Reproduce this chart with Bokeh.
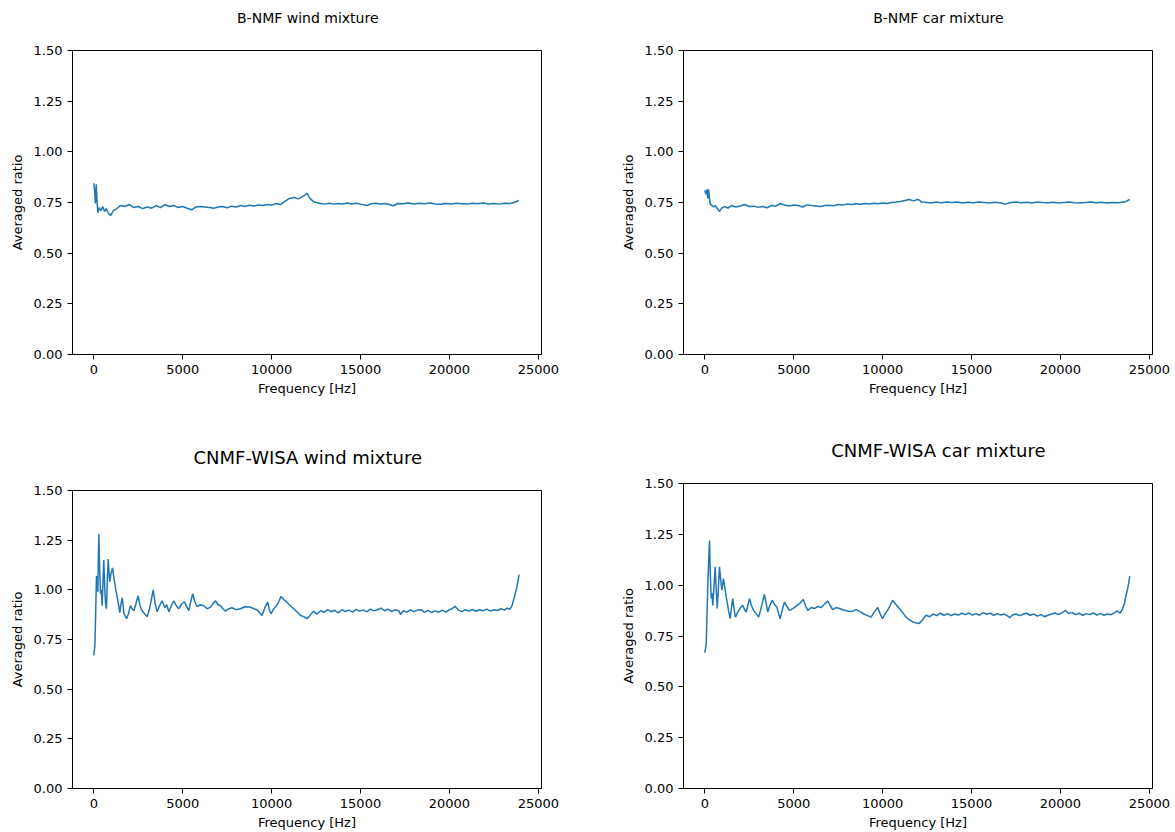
from bokeh.plotting import figure
from bokeh.layouts import column, row
from bokeh.models import Range1d, FixedTicker, NumeralTickFormatter
from bokeh.core.properties import value
from bokeh.embed import file_html
from bokeh.resources import INLINE

# ---- averaged ratio per frequency bin: (frequency [Hz], ratio) ----
bnmf_wind = [
    (0, 0.845), (50, 0.80), (90, 0.745), (135, 0.84), (180, 0.76), (225, 0.70), (300, 0.725),
    (400, 0.71), (500, 0.73), (600, 0.705), (700, 0.72), (800, 0.70), (940, 0.685), (1100, 0.71),
    (1300, 0.72), (1500, 0.735), (1750, 0.73), (2000, 0.74), (2250, 0.725), (2500, 0.73),
    (2750, 0.72), (3000, 0.728), (3250, 0.722), (3500, 0.735), (3750, 0.725), (4000, 0.74),
    (4250, 0.73), (4500, 0.735), (4750, 0.725), (5000, 0.73), (5250, 0.722), (5500, 0.714),
    (5750, 0.728), (6000, 0.73), (6250, 0.728), (6500, 0.725), (6750, 0.722), (7000, 0.728),
    (7250, 0.73), (7500, 0.724), (7750, 0.732), (8000, 0.728), (8250, 0.735), (8500, 0.73),
    (8750, 0.736), (9000, 0.733), (9250, 0.738), (9500, 0.735), (9750, 0.74), (10000, 0.737),
    (10250, 0.745), (10500, 0.74), (10750, 0.755), (11000, 0.77), (11250, 0.775), (11500, 0.768),
    (11750, 0.78), (12000, 0.795), (12150, 0.77), (12400, 0.752), (12750, 0.745), (13000, 0.742),
    (13250, 0.746), (13500, 0.742), (13750, 0.745), (14000, 0.743), (14250, 0.747), (14500, 0.743),
    (14750, 0.746), (15000, 0.742), (15350, 0.735), (15600, 0.744), (15850, 0.746), (16100, 0.743),
    (16400, 0.745), (16850, 0.734), (17100, 0.745), (17400, 0.744), (17700, 0.747), (18000, 0.743),
    (18300, 0.746), (18600, 0.744), (18900, 0.748), (19200, 0.743), (19500, 0.741), (19800, 0.745),
    (20100, 0.743), (20400, 0.746), (20700, 0.744), (21000, 0.742), (21300, 0.746), (21600, 0.744),
    (21900, 0.747), (22200, 0.743), (22500, 0.745), (22800, 0.742), (23100, 0.746), (23400, 0.745),
    (23650, 0.75), (23900, 0.76),
]

bnmf_car = [
    (0, 0.81), (60, 0.79), (120, 0.815), (170, 0.77), (210, 0.815), (300, 0.742), (400, 0.735),
    (500, 0.728), (600, 0.735), (700, 0.72), (825, 0.706), (950, 0.722), (1100, 0.73),
    (1300, 0.722), (1500, 0.735), (1750, 0.728), (2000, 0.733), (2250, 0.74), (2500, 0.73),
    (2750, 0.732), (3000, 0.726), (3250, 0.73), (3500, 0.724), (3750, 0.735), (4000, 0.732),
    (4250, 0.745), (4500, 0.738), (4750, 0.733), (5000, 0.738), (5250, 0.735), (5500, 0.728),
    (5750, 0.738), (6000, 0.735), (6250, 0.733), (6500, 0.73), (6750, 0.735), (7000, 0.737),
    (7250, 0.734), (7500, 0.74), (7750, 0.738), (8000, 0.742), (8250, 0.74), (8500, 0.744),
    (8750, 0.741), (9000, 0.745), (9250, 0.743), (9500, 0.746), (9750, 0.744), (10000, 0.748),
    (10250, 0.745), (10500, 0.75), (10750, 0.752), (11000, 0.755), (11250, 0.76), (11500, 0.765),
    (11750, 0.758), (12000, 0.766), (12200, 0.752), (12500, 0.75), (12750, 0.748), (13000, 0.752),
    (13300, 0.749), (13600, 0.753), (13900, 0.75), (14200, 0.752), (14500, 0.748), (14800, 0.751),
    (15100, 0.749), (15400, 0.752), (15700, 0.75), (16000, 0.748), (16300, 0.751), (16600, 0.749),
    (16900, 0.742), (17200, 0.75), (17500, 0.752), (17800, 0.749), (18100, 0.751), (18400, 0.748),
    (18700, 0.752), (19000, 0.75), (19300, 0.749), (19600, 0.751), (19900, 0.748), (20200, 0.75),
    (20500, 0.752), (20800, 0.749), (21100, 0.747), (21400, 0.75), (21700, 0.752), (22000, 0.749),
    (22300, 0.751), (22600, 0.748), (22900, 0.75), (23200, 0.749), (23600, 0.752), (23900, 0.765),
]

cnmf_wind = [
    (0, 0.67), (60, 0.72), (95, 0.85), (150, 1.07), (225, 0.99), (280, 1.28), (330, 1.10),
    (375, 0.98), (420, 1.00), (470, 0.92), (520, 1.05), (560, 1.15), (620, 1.00), (660, 0.93),
    (710, 0.905), (760, 1.05), (810, 1.155), (860, 1.08), (900, 1.04), (960, 1.08), (1050, 1.11),
    (1130, 1.06), (1220, 1.01), (1280, 0.98), (1350, 0.945), (1400, 0.92), (1460, 0.885),
    (1530, 0.93), (1600, 0.96), (1650, 0.92), (1690, 0.88), (1760, 0.87), (1840, 0.855),
    (1950, 0.88), (2060, 0.92), (2150, 0.905), (2250, 0.895), (2370, 0.93), (2490, 0.97),
    (2600, 0.92), (2720, 0.895), (2850, 0.88), (3000, 0.865), (3150, 0.91), (3340, 1.00),
    (3450, 0.93), (3560, 0.89), (3700, 0.92), (3840, 0.945), (4000, 0.91), (4100, 0.925),
    (4220, 0.89), (4360, 0.92), (4500, 0.945), (4640, 0.92), (4780, 0.905), (4950, 0.93),
    (5100, 0.94), (5220, 0.915), (5340, 0.895), (5450, 0.94), (5560, 0.98), (5680, 0.94),
    (5810, 0.915), (6000, 0.925), (6180, 0.92), (6380, 0.905), (6560, 0.913), (6700, 0.93),
    (6840, 0.945), (6980, 0.925), (7120, 0.92), (7260, 0.905), (7400, 0.893), (7600, 0.905),
    (7780, 0.91), (8000, 0.90), (8240, 0.905), (8500, 0.915), (8800, 0.913), (9000, 0.905),
    (9180, 0.90), (9320, 0.885), (9460, 0.871), (9620, 0.91), (9780, 0.938), (9870, 0.90),
    (9970, 0.88), (10120, 0.905), (10260, 0.917), (10400, 0.94), (10530, 0.967), (10700, 0.95),
    (10860, 0.938), (11050, 0.92), (11240, 0.905), (11420, 0.89), (11610, 0.872), (11800, 0.865),
    (11990, 0.855), (12150, 0.87), (12350, 0.893), (12550, 0.878), (12750, 0.895), (12950, 0.887),
    (13150, 0.90), (13350, 0.89), (13550, 0.897), (13750, 0.884), (13950, 0.90), (14150, 0.891),
    (14350, 0.898), (14550, 0.888), (14750, 0.902), (14950, 0.893), (15150, 0.899), (15350, 0.889),
    (15550, 0.903), (15750, 0.894), (15950, 0.90), (16150, 0.908), (16350, 0.895), (16550, 0.902),
    (16750, 0.89), (16950, 0.90), (17150, 0.895), (17250, 0.876), (17400, 0.895), (17600, 0.888),
    (17800, 0.899), (18000, 0.89), (18200, 0.898), (18400, 0.90), (18600, 0.887), (18800, 0.897),
    (19000, 0.885), (19200, 0.894), (19400, 0.887), (19600, 0.898), (19800, 0.888), (20000, 0.90),
    (20150, 0.905), (20320, 0.917), (20500, 0.898), (20700, 0.89), (20900, 0.90), (21100, 0.893),
    (21300, 0.901), (21500, 0.892), (21700, 0.90), (21900, 0.895), (22100, 0.903), (22300, 0.893),
    (22500, 0.90), (22700, 0.896), (22900, 0.905), (23100, 0.898), (23250, 0.908), (23400, 0.902),
    (23520, 0.92), (23600, 0.947), (23700, 0.98), (23790, 1.013), (23920, 1.077),
]

cnmf_car = [
    (0, 0.668), (80, 0.712), (170, 1.008), (264, 1.22), (310, 1.05), (360, 0.934), (400, 0.96),
    (450, 0.90), (520, 1.00), (580, 1.09), (640, 0.98), (700, 0.885), (760, 0.98), (825, 1.09),
    (890, 1.03), (955, 0.975), (1050, 1.032), (1120, 0.99), (1200, 0.942), (1270, 0.91),
    (1330, 0.876), (1430, 0.835), (1500, 0.89), (1570, 0.934), (1650, 0.88), (1720, 0.843),
    (1810, 0.86), (1910, 0.876), (2020, 0.89), (2130, 0.901), (2230, 0.88), (2330, 0.868),
    (2420, 0.90), (2510, 0.934), (2620, 0.90), (2740, 0.876), (2880, 0.86), (3030, 0.843),
    (3200, 0.90), (3350, 0.955), (3450, 0.91), (3540, 0.868), (3660, 0.90), (3790, 0.926),
    (3920, 0.905), (4050, 0.893), (4150, 0.86), (4240, 0.835), (4360, 0.88), (4480, 0.917),
    (4620, 0.895), (4760, 0.876), (4950, 0.885), (5130, 0.896), (5340, 0.91), (5540, 0.929),
    (5660, 0.90), (5790, 0.876), (5980, 0.89), (6160, 0.885), (6350, 0.895), (6540, 0.89),
    (6720, 0.905), (6910, 0.922), (7050, 0.90), (7190, 0.88), (7380, 0.89), (7570, 0.885),
    (7800, 0.878), (8030, 0.873), (8270, 0.87), (8500, 0.88), (8730, 0.87), (8970, 0.857),
    (9150, 0.85), (9350, 0.843), (9540, 0.87), (9720, 0.89), (9860, 0.86), (10000, 0.835),
    (10140, 0.86), (10280, 0.876), (10420, 0.90), (10560, 0.926), (10750, 0.905), (10940, 0.885),
    (11130, 0.865), (11310, 0.843), (11500, 0.83), (11690, 0.819), (11870, 0.815), (12060, 0.811),
    (12250, 0.83), (12440, 0.852), (12650, 0.845), (12850, 0.858), (13050, 0.85), (13250, 0.862),
    (13450, 0.852), (13650, 0.86), (13850, 0.85), (14050, 0.858), (14250, 0.853), (14450, 0.862),
    (14650, 0.855), (14850, 0.863), (15050, 0.853), (15250, 0.86), (15450, 0.852), (15650, 0.865),
    (15850, 0.857), (16050, 0.862), (16250, 0.852), (16450, 0.86), (16650, 0.853), (16850, 0.858),
    (17050, 0.848), (17150, 0.84), (17300, 0.853), (17500, 0.858), (17700, 0.85), (17900, 0.857),
    (18100, 0.862), (18300, 0.852), (18500, 0.858), (18700, 0.848), (18900, 0.855), (19100, 0.845),
    (19300, 0.852), (19500, 0.858), (19700, 0.863), (19900, 0.855), (20100, 0.865), (20300, 0.876),
    (20450, 0.86), (20650, 0.866), (20850, 0.855), (21050, 0.862), (21250, 0.852), (21450, 0.86),
    (21650, 0.855), (21850, 0.863), (22050, 0.853), (22250, 0.86), (22450, 0.852), (22650, 0.858),
    (22850, 0.855), (23050, 0.865), (23200, 0.873), (23350, 0.862), (23480, 0.88), (23600, 0.91),
    (23670, 0.942), (23800, 0.99), (23900, 1.045),
]

x_ticks = [0, 5000, 10000, 15000, 20000, 25000]
y_ticks = [0.0, 0.25, 0.5, 0.75, 1.0, 1.25, 1.5]

FONT = "DejaVu Sans"
LINE_COLOR = "#1f77b4"
FRAME_W = 469
LEFT = 72


def heading(title, width, height, size):
    """A thin strip holding a panel heading, centred over the plot frame."""
    h = figure(width=width, height=height, min_border=0,
               x_range=Range1d(0, width), y_range=Range1d(0, height),
               x_axis_type=None, y_axis_type=None,
               output_backend="svg", toolbar_location=None)
    h.grid.visible = False
    h.outline_line_color = None
    h.text(x=[LEFT + FRAME_W / 2], y=[23], text=[title],
           text_align="center", text_baseline="middle",
           text_font=value(FONT), text_font_size=size, text_color="black")
    return h


def panel(series, frame_h, right, bottom):
    freq = [f for f, _ in series]
    ratio = [r for _, r in series]
    p = figure(frame_width=FRAME_W, frame_height=frame_h,
               min_border_top=10, min_border_left=LEFT,
               min_border_right=right, min_border_bottom=bottom,
               x_range=Range1d(-1199, 25179), y_range=Range1d(0, 1.5),
               output_backend="svg", toolbar_location=None)
    p.line(freq, ratio, line_color=LINE_COLOR, line_width=1.5)

    p.grid.visible = False
    p.outline_line_color = "black"
    p.outline_line_width = 1
    p.outline_line_alpha = 1.0

    for ax in (p.xaxis[0], p.yaxis[0]):
        ax.axis_line_color = "black"
        ax.major_tick_line_color = "black"
        ax.major_tick_out = 5
        ax.major_tick_in = 0
        ax.minor_tick_line_color = None
        ax.major_label_text_font = FONT
        ax.major_label_text_font_size = "13px"
        ax.major_label_text_color = "black"
        ax.major_label_standoff = 5
        ax.axis_label_text_font = FONT
        ax.axis_label_text_font_size = "13px"
        ax.axis_label_text_font_style = "normal"
        ax.axis_label_text_color = "black"

    p.xaxis.ticker = FixedTicker(ticks=x_ticks)
    p.xaxis.formatter = NumeralTickFormatter(format="0")
    p.xaxis.axis_label = "Frequency [Hz]"
    p.xaxis.axis_label_standoff = 4

    p.yaxis.ticker = FixedTicker(ticks=y_ticks)
    p.yaxis.formatter = NumeralTickFormatter(format="0.00")
    p.yaxis.axis_label = "Averaged ratio"
    p.yaxis.axis_label_standoff = 6
    return p


W_LEFT = LEFT + FRAME_W + 70
W_RIGHT = LEFT + FRAME_W + 23

left_col = column(
    heading("B-NMF wind mixture", W_LEFT, 40, "14px"),
    panel(bnmf_wind, 304, 70, 86),
    heading("CNMF-WISA wind mixture", W_LEFT, 40, "18px"),
    panel(cnmf_wind, 298, 70, 44),
)
right_col = column(
    heading("B-NMF car mixture", W_RIGHT, 40, "14px"),
    panel(bnmf_car, 304, 23, 86),
    heading("CNMF-WISA car mixture", W_RIGHT, 33, "18px"),
    panel(cnmf_car, 305, 23, 44),
)

layout = row(left_col, right_col)
open("out.html", "w").write(file_html(layout, INLINE))
